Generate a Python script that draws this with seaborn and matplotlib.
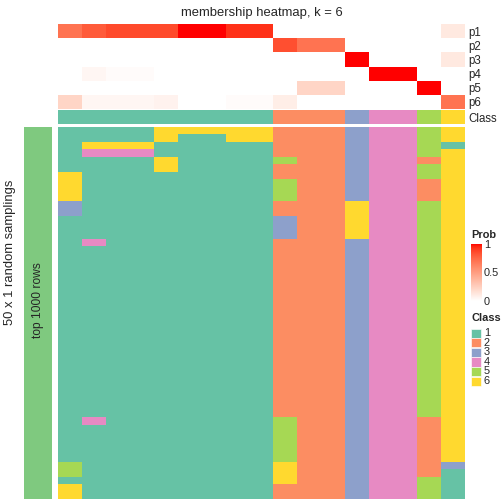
#!/usr/bin/env python3

"""Membership heatmap (k = 6) over 50 random samplings."""

import numpy as np
import pandas as pd
import matplotlib
matplotlib.use('Agg')
import matplotlib.pyplot as plt
from matplotlib.colors import ListedColormap, LinearSegmentedColormap
from matplotlib.patches import Rectangle
import seaborn as sns


W, H = 504, 504

PROB_ROWS = ['p1', 'p2', 'p3', 'p4', 'p5', 'p6']
P1 = [0.70, 0.80, 0.86, 0.86, 0.86, 1.00, 1.00, 0.93, 0.93, 0, 0, 0, 0, 0, 0, 0, 0.12]
P2 = [0, 0, 0, 0, 0, 0, 0, 0, 0, 0.84, 0.70, 0.70, 0, 0, 0, 0, 0]
P3 = [0, 0, 0, 0, 0, 0, 0, 0, 0, 0, 0, 0, 1.00, 0, 0, 0, 0.12]
P4 = [0, 0.05, 0.02, 0.02, 0, 0, 0, 0, 0, 0, 0, 0, 0, 1.00, 1.00, 0, 0]
P5 = [0, 0, 0, 0, 0, 0, 0, 0, 0, 0, 0.22, 0.22, 0, 0, 0, 1.00, 0]
P6 = [0.22, 0.05, 0.05, 0.05, 0.07, 0, 0, 0.02, 0.02, 0.09, 0, 0, 0, 0, 0, 0, 0.70]

CLASS_TOP = [1, 1, 1, 1, 1, 1, 1, 1, 1, 2, 2, 2, 3, 4, 4, 5, 6]
CLASS_LABELS = ['1', '2', '3', '4', '5', '6']

# class of each sampling, per column, as (class, run length) from top to bottom
COLUMN_RUNS = [
    [(1, 6), (6, 4), (3, 2), (1, 33), (5, 2), (1, 1), (6, 2)],
    [(1, 2), (6, 1), (4, 1), (1, 11), (4, 1), (1, 23), (4, 1), (1, 10)],
    [(1, 2), (6, 1), (4, 1), (1, 46)],
    [(1, 2), (6, 1), (4, 1), (1, 46)],
    [(6, 2), (1, 2), (6, 2), (1, 44)],
    [(6, 1), (1, 49)],
    [(6, 1), (1, 49)],
    [(6, 2), (1, 48)],
    [(6, 2), (1, 48)],
    [(2, 4), (5, 1), (2, 2), (5, 3), (2, 2), (3, 3), (2, 24), (5, 6), (6, 3), (2, 2)],
    [(2, 50)],
    [(2, 50)],
    [(3, 10), (6, 5), (3, 35)],
    [(4, 50)],
    [(4, 50)],
    [(5, 4), (2, 1), (5, 2), (2, 3), (5, 29), (2, 8), (5, 3)],
    [(6, 2), (1, 1), (6, 42), (3, 1), (1, 4)],
]

N_SAMPLINGS = 50
BAR_COLOR = '#7FC97F'
FONT = 'Liberation Sans'


def to_lab(rgb):
    c = np.asarray(rgb, float)
    lin = np.where(c <= 0.04045, c / 12.92, ((c + 0.055) / 1.055) ** 2.4)
    m = np.array([[0.4124, 0.3576, 0.1805], [0.2126, 0.7152, 0.0722], [0.0193, 0.1192, 0.9505]])
    xyz = m @ lin / np.array([0.95047, 1.0, 1.08883])
    f = np.where(xyz > 0.008856, np.cbrt(xyz), 7.787 * xyz + 16 / 116)
    return np.array([116 * f[1] - 16, 500 * (f[0] - f[1]), 200 * (f[1] - f[2])])


def from_lab(lab):
    fy = (lab[0] + 16) / 116
    f = np.array([fy + lab[1] / 500, fy, fy - lab[2] / 200])
    xyz = np.where(f ** 3 > 0.008856, f ** 3, (f - 16 / 116) / 7.787) * np.array([0.95047, 1.0, 1.08883])
    m = np.array([[0.4124, 0.3576, 0.1805], [0.2126, 0.7152, 0.0722], [0.0193, 0.1192, 0.9505]])
    lin = np.linalg.solve(m, xyz)
    c = np.where(lin <= 0.0031308, 12.92 * lin, 1.055 * np.clip(lin, 0, None) ** (1 / 2.4) - 0.055)
    return np.clip(c, 0, 1)


def lab_ramp(c0, c1, n=256):
    a, b = to_lab(c0), to_lab(c1)
    colors = [from_lab(a + (b - a) * t) for t in np.linspace(0, 1, n)]
    return LinearSegmentedColormap.from_list('ramp', colors)


def box(x0, y0, x1, y1):
    return [x0 / W, 1 - y1 / H, (x1 - x0) / W, (y1 - y0) / H]


def main():
    sns.set_style('white')
    plt.rcParams['font.family'] = [FONT, 'DejaVu Sans']

    prob = pd.DataFrame([P1, P2, P3, P4, P5, P6], index=PROB_ROWS)
    classes = pd.DataFrame(
        np.column_stack([np.repeat([c for c, _ in runs], [n for _, n in runs]) for runs in COLUMN_RUNS]))
    assert classes.shape == (N_SAMPLINGS, len(CLASS_TOP))

    prob_cmap = lab_ramp((1, 1, 1), (1, 0, 0))
    class_cmap = ListedColormap(sns.color_palette('Set2', 6))

    fig = plt.figure(figsize=(W / 72, H / 72), dpi=72)

    ax_p = fig.add_axes(box(58, 24, 465, 109))
    sns.heatmap(prob, ax=ax_p, cmap=prob_cmap, vmin=0, vmax=1, cbar=False,
                xticklabels=False, yticklabels=PROB_ROWS)
    ax_p.yaxis.tick_right()
    ax_p.tick_params(axis='y', length=0, pad=3, labelsize=11.5, labelrotation=0)
    ax_p.set_title('membership heatmap, k = 6', fontsize=13, pad=8)

    ax_c = fig.add_axes(box(58, 110, 465, 124))
    sns.heatmap(pd.DataFrame([CLASS_TOP], index=['Class']), ax=ax_c, cmap=class_cmap,
                vmin=0.5, vmax=6.5, cbar=False, xticklabels=False, yticklabels=['Class'])
    ax_c.yaxis.tick_right()
    ax_c.tick_params(axis='y', length=0, pad=3, labelsize=11.5, labelrotation=0)

    ax_m = fig.add_axes(box(58, 127, 465, 499))
    sns.heatmap(classes, ax=ax_m, cmap=class_cmap, vmin=0.5, vmax=6.5, cbar=False,
                xticklabels=False, yticklabels=False)

    ax_l = fig.add_axes(box(24, 127, 52, 499))
    ax_l.set_facecolor(BAR_COLOR)
    ax_l.set_xticks([])
    ax_l.set_yticks([])
    for s in ax_l.spines.values():
        s.set_visible(False)
    ax_l.text(0.5, 1 - (300 - 127) / 372, 'top 1000 rows', rotation=90, ha='center',
              va='center', fontsize=12, transform=ax_l.transAxes)
    fig.text(10 / W, 1 - 252 / H, '50 x 1 random samplings', rotation=90,
             ha='center', va='center', fontsize=13)

    # Prob colour bar
    cax = fig.add_axes(box(471, 244, 482, 301))
    sm = plt.cm.ScalarMappable(cmap=prob_cmap, norm=plt.Normalize(0, 1))
    cb = fig.colorbar(sm, cax=cax, ticks=[0, 0.5, 1])
    cb.outline.set_visible(False)
    cax.tick_params(which='both', left=True, right=True, direction='in', color='white',
                    length=2.5, width=0.8, labelsize=11, pad=2)
    cax.set_yticklabels(['0', '0.5', '1'], fontsize=11)
    fig.text(471 / W, 1 - 235 / H, 'Prob', fontsize=11, fontweight='bold', va='center')

    # Class legend
    fig.text(471 / W, 1 - 318 / H, 'Class', fontsize=11, fontweight='bold', va='center')
    palette = sns.color_palette('Set2', 6)
    for i, (lab, col) in enumerate(zip(CLASS_LABELS, palette)):
        y = 328.5 + 9.6 * i
        fig.patches.append(Rectangle((471 / W, 1 - (y + 9.2) / H), 10 / W, 9.2 / H,
                                     transform=fig.transFigure, facecolor=col,
                                     edgecolor='white', linewidth=0.6))
        fig.text(484 / W, 1 - (y + 4.6) / H, lab, fontsize=11, va='center')

    fig.savefig('out.png', dpi=72)
    plt.close(fig)


if __name__ == '__main__':
    main()
